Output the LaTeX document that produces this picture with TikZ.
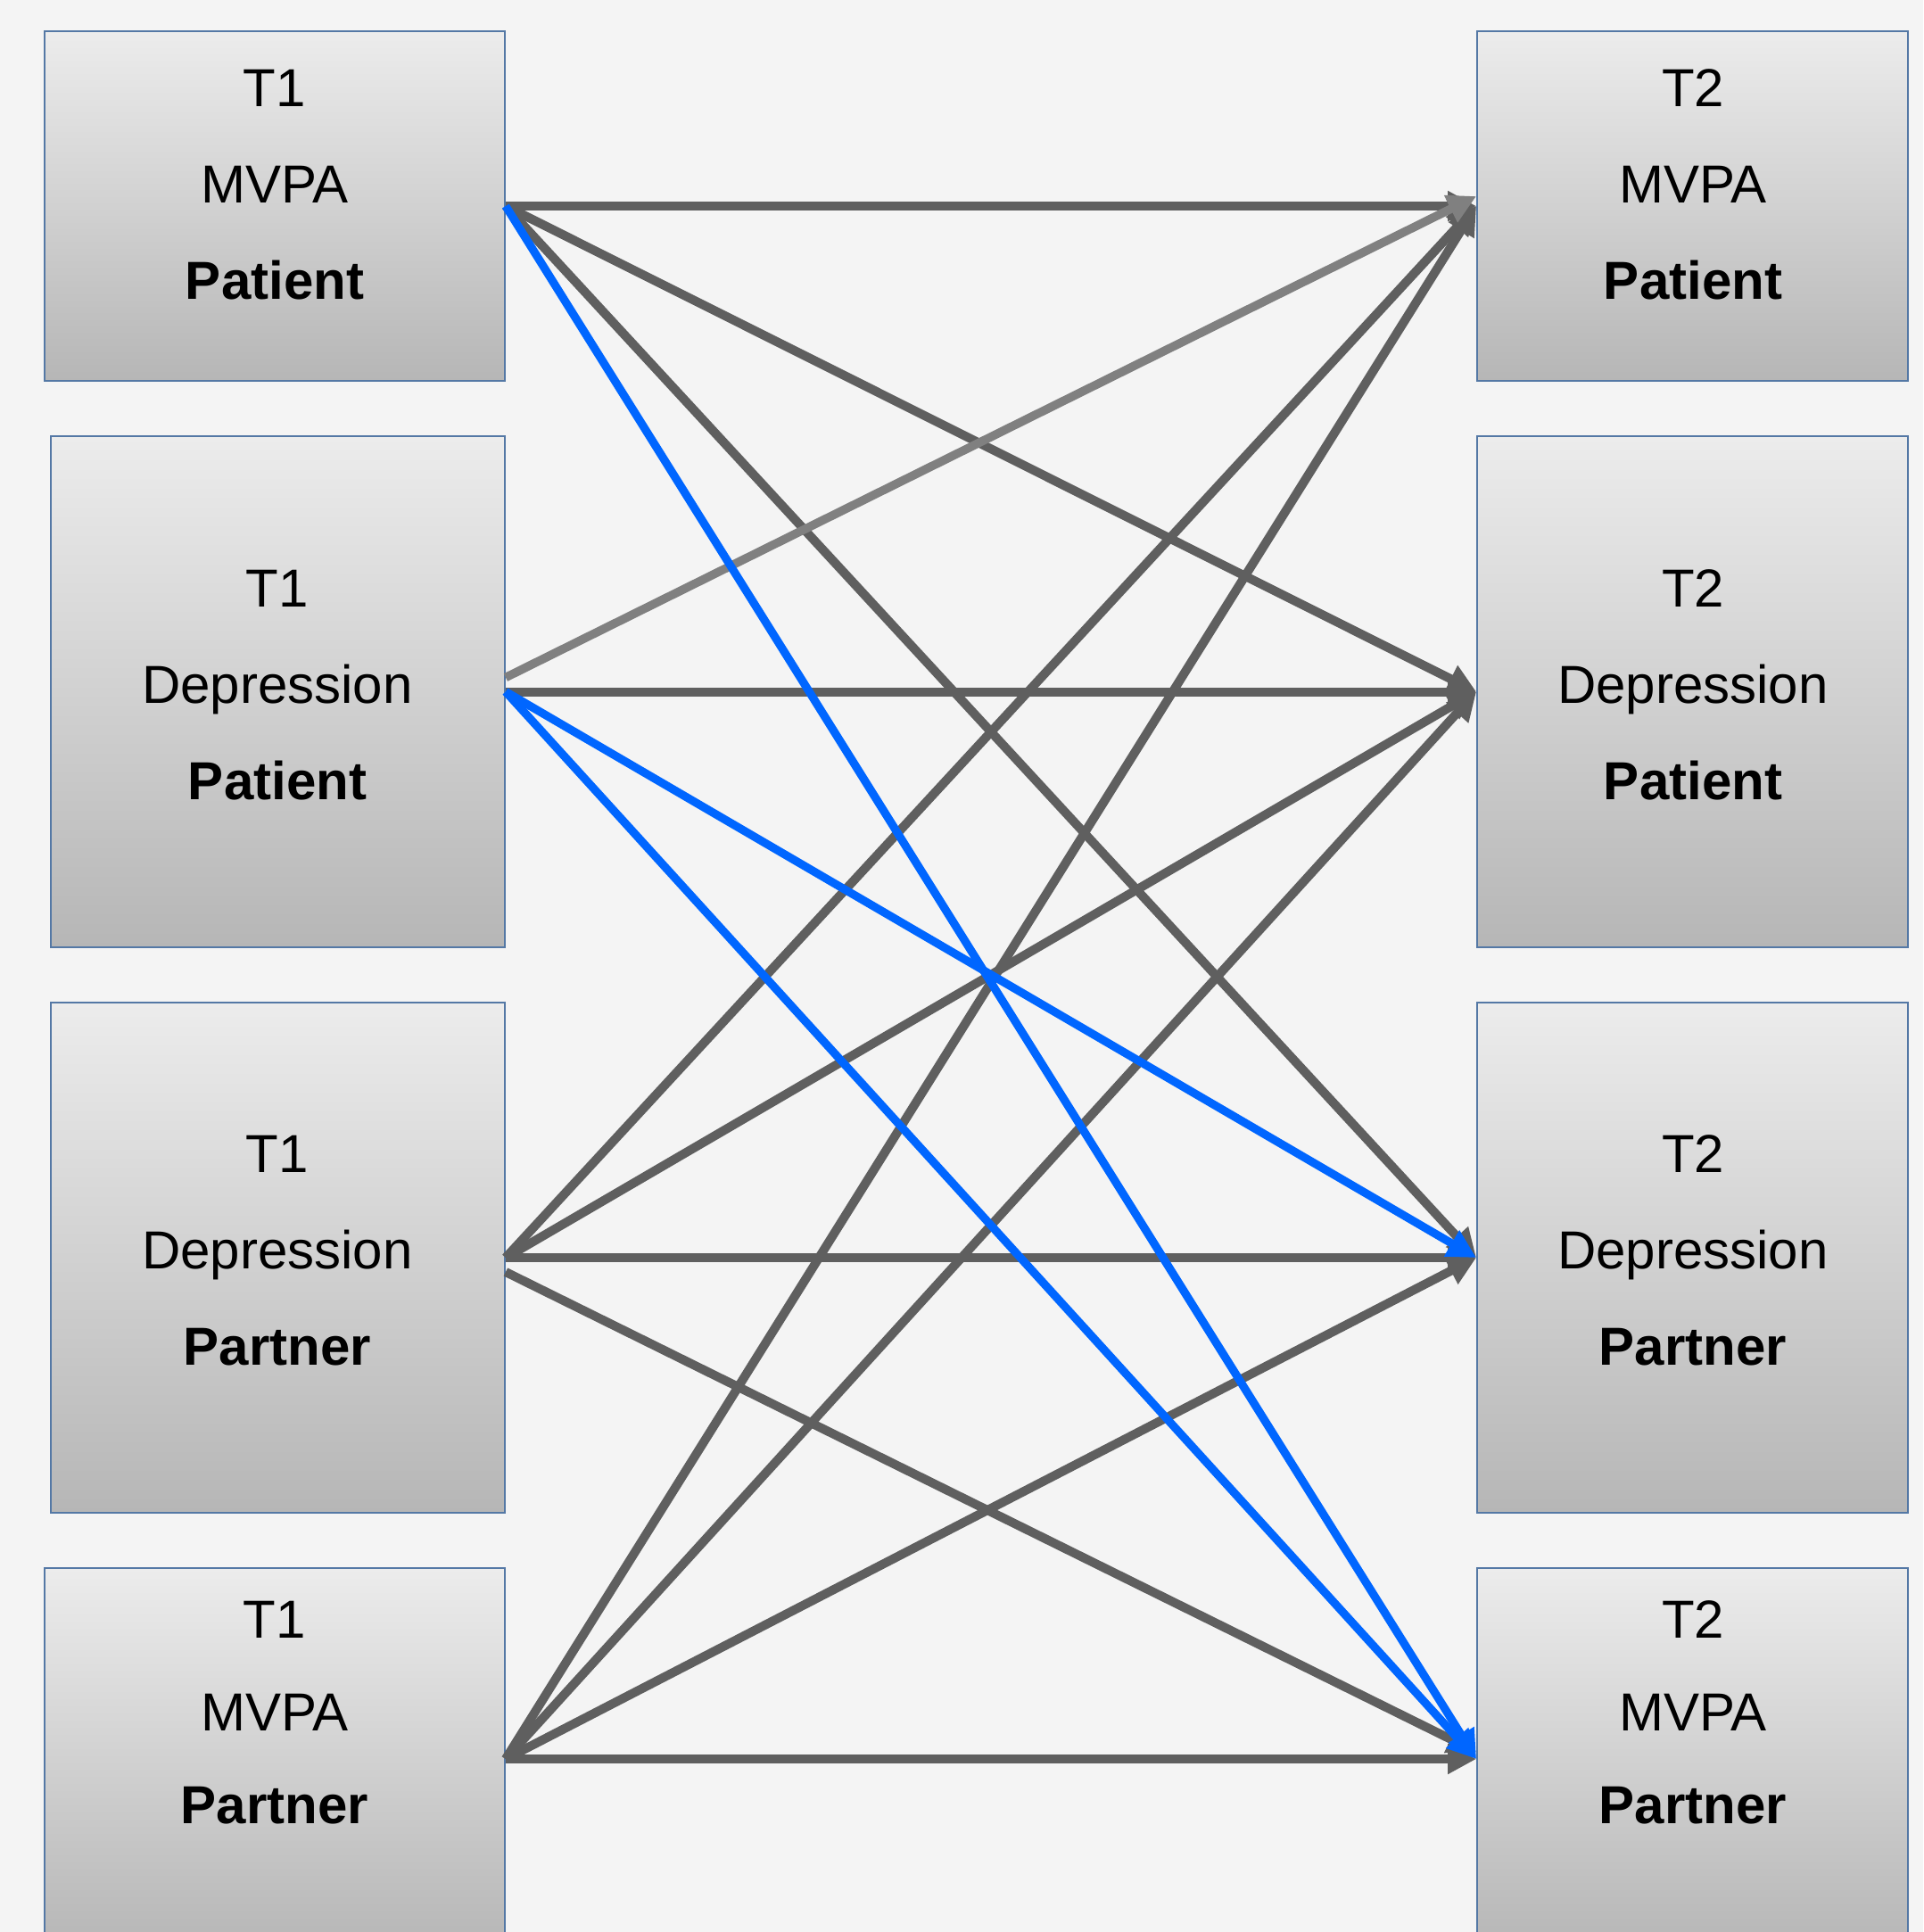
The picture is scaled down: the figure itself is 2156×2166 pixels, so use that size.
\documentclass[tikz,border=0pt]{standalone}
\usepackage{fontspec}
\setmainfont{Liberation Sans}
\usetikzlibrary{arrows.meta}

\definecolor{bgcol}{RGB}{244,244,244}
\definecolor{boxtop}{RGB}{236,236,236}
\definecolor{boxbot}{RGB}{182,182,182}
\definecolor{boxline}{RGB}{84,120,165}
\definecolor{effdark}{RGB}{95,95,95}
\definecolor{efflight}{RGB}{128,128,128}
\definecolor{effblue}{RGB}{0,102,255}

\tikzset{every picture/.style={line width=0.75pt}}
\tikzset{
  varbox/.style={rectangle, draw=boxline, line width=0.45pt, top color=boxtop, bottom color=boxbot, inner sep=0pt},
  vartext/.style={align=center, inner sep=0pt, font=\fontsize{15}{27}\selectfont},
  vartextlow/.style={align=center, inner sep=0pt, font=\fontsize{15}{26}\selectfont},
  effect/.style={-{Triangle[length=8pt,width=8pt]}, line width=2.5pt, color=effdark},
  effectgray/.style={effect, line width=2.4pt, color=efflight},
  effectblue/.style={effect, line width=2.3pt, color=effblue},
}

\begin{document}
\begin{tikzpicture}[x=0.25pt,y=0.25pt,yscale=-1,xscale=1]
\useasboundingbox (0,0) rectangle (2156,2166);
\fill [bgcol] (0,0) rectangle (2156,2166);

%Shape: Rectangle, T1 column
\node [varbox, minimum width=129pt, minimum height=98pt] (l1) at (308,231) {};
\node [varbox, minimum width=127.25pt, minimum height=143.25pt] (l2) at (311.5,775.5) {};
\node [varbox, minimum width=127.25pt, minimum height=143pt] (l3) at (311.5,1410) {};
\node [varbox, minimum width=129pt, minimum height=107pt] (l4) at (308,1972) {};
%Shape: Rectangle, T2 column
\node [varbox, minimum width=120.75pt, minimum height=98pt] (r1) at (1897.5,231) {};
\node [varbox, minimum width=120.75pt, minimum height=143.25pt] (r2) at (1897.5,775.5) {};
\node [varbox, minimum width=120.75pt, minimum height=143pt] (r3) at (1897.5,1410) {};
\node [varbox, minimum width=120.75pt, minimum height=107pt] (r4) at (1897.5,1972) {};

% Text Node
\node [vartext] (l1t) at (308,207) {T1\\MVPA\\\textbf{Patient}};
\node [vartext] (l2t) at (311,768) {T1\\Depression\\\textbf{Patient}};
\node [vartext] (l3t) at (311,1402) {T1\\Depression\\\textbf{Partner}};
\node [vartextlow] (l4t) at (308,1920) {T1\\MVPA\\\textbf{Partner}};
% Text Node
\node [vartext] (r1t) at (1898,207) {T2\\MVPA\\\textbf{Patient}};
\node [vartext] (r2t) at (1898,768) {T2\\Depression\\\textbf{Patient}};
\node [vartext] (r3t) at (1898,1402) {T2\\Depression\\\textbf{Partner}};
\node [vartextlow] (r4t) at (1898,1920) {T2\\MVPA\\\textbf{Partner}};

%Straight Lines [gray paths]
\draw [effect] (l1.east) -- (r1.west);
\draw [effect] (l1.east) -- (r2.west);
\draw [effect] (l1.east) -- (r3.west);
\draw [effect] (l2.east) -- (r2.west);
\draw [effect] (l3.east) -- (r1.west);
\draw [effect] (l3.east) -- (r2.west);
\draw [effect] (l3.east) -- (r3.west);
\draw [effect] ([yshift=4pt]l3.east) -- ([yshift=-2pt]r4.west);
\draw [effect] (l4.east) -- (r1.west);
\draw [effect] (l4.east) -- (r2.west);
\draw [effect] (l4.east) -- (r3.west);
\draw [effect] (l4.east) -- (r4.west);
\draw [effectgray] ([yshift=-4pt]l2.east) -- ([yshift=-2.75pt]r1.west);

%Straight Lines [blue paths]
\draw [effectblue] (l1.east) -- (r4.west);
\draw [effectblue] (l2.east) -- (r3.west);
\draw [effectblue] (l2.east) -- (r4.west);

\end{tikzpicture}
\end{document}
